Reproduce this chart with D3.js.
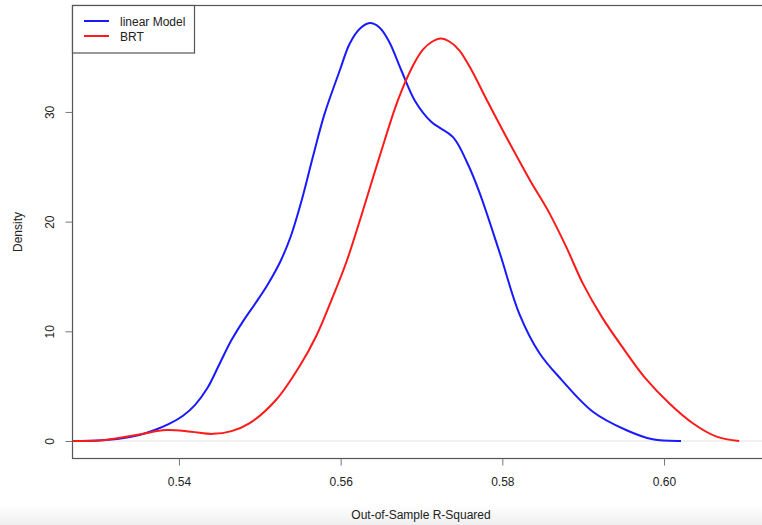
<!DOCTYPE html>
<html>
<head>
<meta charset="utf-8">
<script src="https://cdn.jsdelivr.net/npm/d3@7"></script>
<style>
  body { margin: 0; background: #fff; }
  svg text { font-family: "Liberation Sans", Arial, sans-serif; fill: #222; }
</style>
</head>
<body>
<script>
const width = 762, height = 525;

// density curves
const linearX = [0.5268, 0.5300, 0.5330, 0.5351, 0.5370, 0.5389, 0.5405, 0.5420, 0.5435, 0.5450, 0.5465, 0.5480, 0.5495, 0.5510, 0.5525, 0.5538, 0.5552, 0.5566, 0.5580, 0.5599, 0.5611, 0.5624, 0.5636, 0.5648, 0.5660, 0.5675, 0.5692, 0.5712, 0.5739, 0.5757, 0.5772, 0.5797, 0.5821, 0.5846, 0.5873, 0.5912, 0.5953, 0.5986, 0.6021];
const linearY = [0, 0.05, 0.25, 0.55, 1.0, 1.6, 2.3, 3.3, 4.8, 7.0, 9.2, 11.0, 12.6, 14.3, 16.3, 18.6, 22.0, 26.0, 29.8, 33.8, 36.2, 37.6, 38.1, 37.7, 36.4, 33.8, 31.0, 29.1, 27.7, 25.3, 22.6, 17.1, 11.6, 8.0, 5.6, 2.67, 1.0, 0.15, 0];
const brtX = [0.5268, 0.5310, 0.5351, 0.5384, 0.5415, 0.5442, 0.5465, 0.5487, 0.5520, 0.5549, 0.5570, 0.5590, 0.5607, 0.5625, 0.5648, 0.5671, 0.5690, 0.5702, 0.5713, 0.5724, 0.5735, 0.5747, 0.5762, 0.5780, 0.5805, 0.5834, 0.5858, 0.5879, 0.5900, 0.5924, 0.5950, 0.5976, 0.6007, 0.6036, 0.6065, 0.6093];
const brtY = [0, 0.1, 0.6, 1.0, 0.85, 0.65, 0.9, 1.6, 3.74, 6.8, 9.6, 13.1, 16.3, 20.4, 25.9, 31.1, 34.3, 35.7, 36.4, 36.7, 36.4, 35.6, 33.8, 31.2, 27.7, 23.8, 20.8, 17.7, 14.3, 11.2, 8.4, 5.8, 3.4, 1.6, 0.4, 0];

const seriesNames = ["linear Model", "BRT"];
const seriesColors = ["#1a1aff", "#ff1a1a"];
const xTicks = [0.54, 0.56, 0.58, 0.60];
const yTicks = [0, 10, 20, 30];

const svg = d3.select("body").append("svg").attr("width", width).attr("height", height);

// faint shading at the very bottom of the screenshot
const grad = svg.append("defs").append("linearGradient").attr("id", "fade").attr("x1", 0).attr("x2", 0).attr("y1", 0).attr("y2", 1);
grad.append("stop").attr("offset", "0%").attr("stop-color", "#fff");
grad.append("stop").attr("offset", "100%").attr("stop-color", "#efefef");
svg.append("rect").attr("x", 0).attr("y", 505).attr("width", width).attr("height", 20).attr("fill", "url(#fade)");

const x = d3.scaleLinear().domain([0.52677, 0.61286]).range([72, 768]);
const y = d3.scaleLinear().domain([-1.55, 39.75]).range([458, 5]);

// zero line
svg.append("line")
  .attr("x1", 72).attr("x2", width)
  .attr("y1", y(0)).attr("y2", y(0))
  .attr("stroke", "#e3e3e3").attr("stroke-width", 1.2);

const line = d3.line().x(d => x(d[0])).y(d => y(d[1])).curve(d3.curveCatmullRom.alpha(0.5));

const series = [d3.zip(linearX, linearY), d3.zip(brtX, brtY)];
svg.selectAll("path.curve")
  .data(series)
  .enter().append("path")
  .attr("class", "curve")
  .attr("d", line)
  .attr("fill", "none")
  .attr("stroke", (d, i) => seriesColors[i])
  .attr("stroke-width", 2);

// plot box
svg.append("rect")
  .attr("x", 72.5).attr("y", 5.5)
  .attr("width", 768 - 72).attr("height", 458 - 5)
  .attr("fill", "none").attr("stroke", "#555").attr("stroke-width", 1.2);

// x axis
const xAxis = svg.append("g")
  .attr("transform", "translate(0,458.5)")
  .call(d3.axisBottom(x).tickValues(xTicks).tickFormat(d3.format(".2f")).tickSize(7).tickSizeOuter(0));
xAxis.select(".domain").remove();
xAxis.selectAll(".tick line").attr("stroke", "#777");
xAxis.selectAll("text").attr("font-size", 12).attr("dy", null).attr("y", 27);

// y axis
const yAxis = svg.append("g")
  .attr("transform", "translate(72.5,0)")
  .call(d3.axisLeft(y).tickValues(yTicks).tickSize(7).tickSizeOuter(0));
yAxis.select(".domain").remove();
yAxis.selectAll(".tick line").attr("stroke", "#777");
yAxis.selectAll("text")
  .attr("font-size", 12)
  .attr("x", null).attr("dy", null)
  .attr("text-anchor", "middle")
  .attr("transform", "translate(-19,0) rotate(-90)");

// axis titles
svg.append("text")
  .attr("x", 421).attr("y", 518.5)
  .attr("text-anchor", "middle").attr("font-size", 12)
  .text("Out-of-Sample R-Squared");

svg.append("text")
  .attr("transform", "translate(22,232) rotate(-90)")
  .attr("text-anchor", "middle").attr("font-size", 12)
  .text("Density");

// legend
svg.append("rect")
  .attr("x", 72.5).attr("y", 5.5)
  .attr("width", 122).attr("height", 47.5)
  .attr("fill", "#fff").attr("stroke", "#555").attr("stroke-width", 1.2);

const legend = svg.selectAll(".legendItem")
  .data(seriesNames)
  .enter().append("g")
  .attr("class", "legendItem")
  .attr("transform", (d, i) => `translate(84, ${21 + i * 15})`);

legend.append("line")
  .attr("x1", 0).attr("x2", 25)
  .attr("stroke", (d, i) => seriesColors[i])
  .attr("stroke-width", 2);

legend.append("text")
  .attr("x", 36).attr("y", 4.5)
  .attr("font-size", 12)
  .text(d => d);
</script>
</body>
</html>
